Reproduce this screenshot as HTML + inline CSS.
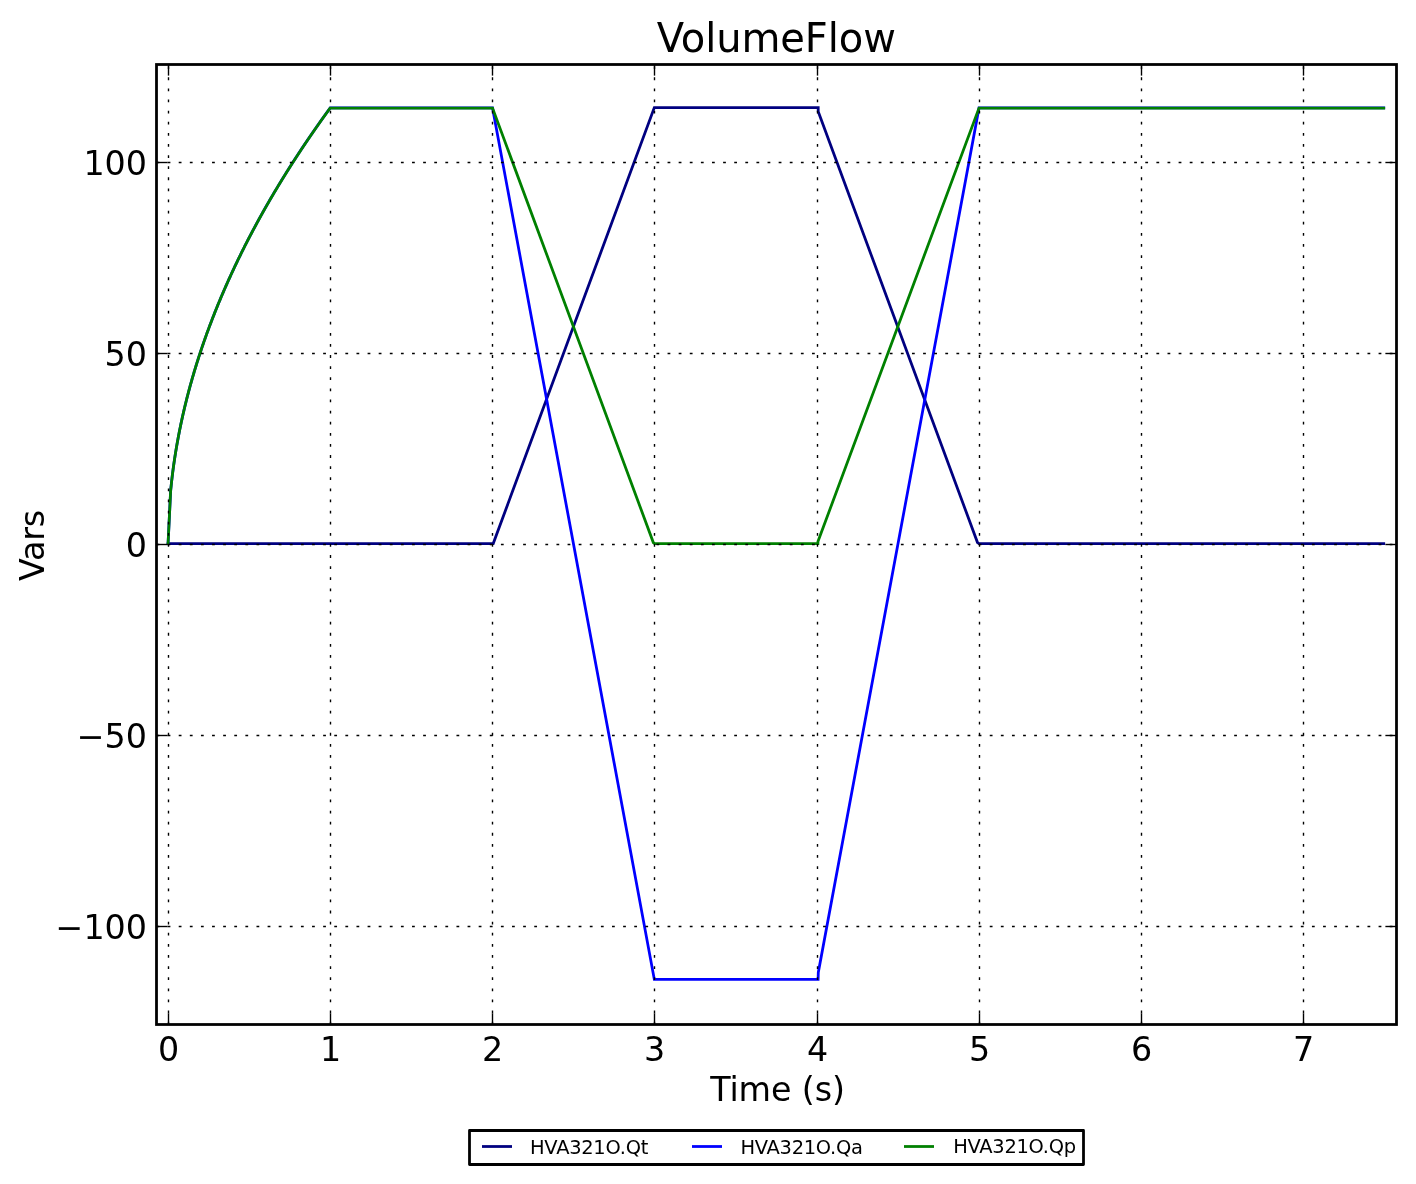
<!DOCTYPE html>
<html><head><meta charset="utf-8"><title>VolumeFlow</title>
<style>html,body{margin:0;padding:0;background:#fff}body{width:1416px;height:1184px;overflow:hidden}</style></head>
<body>
<svg width="1416" height="1184" viewBox="0 0 1416 1184" style="display:block">
<rect x="0" y="0" width="1416" height="1184" fill="#fff"/>
<path d="M168.16 543.55 L493.24 543.55 L654.33 107.60 L818.20 107.60 L818.20 111.60 L977.50 542.55 L979.00 543.55 L1383.74 543.55" fill="none" stroke="#000080" stroke-width="2.78" stroke-linejoin="miter" stroke-miterlimit="4" stroke-linecap="square"/>
<path d="M168.06 543.70 L170.63 491.05 L170.80 489.23 L170.99 487.42 L171.18 485.60 L171.37 483.78 L171.57 481.97 L171.77 480.15 L171.99 478.34 L172.20 476.52 L172.42 474.71 L172.65 472.89 L172.89 471.08 L173.13 469.26 L173.37 467.44 L173.62 465.63 L173.88 463.81 L174.14 462.00 L174.41 460.18 L174.68 458.37 L174.96 456.55 L175.25 454.73 L175.54 452.92 L175.83 451.10 L176.14 449.29 L176.44 447.47 L176.76 445.66 L177.08 443.84 L177.40 442.03 L177.73 440.21 L178.07 438.39 L178.41 436.58 L178.75 434.76 L179.11 432.95 L179.46 431.13 L179.83 429.32 L180.20 427.50 L180.57 425.68 L180.95 423.87 L181.34 422.05 L181.73 420.24 L182.13 418.42 L182.53 416.61 L182.94 414.79 L183.35 412.98 L183.77 411.16 L184.19 409.34 L184.62 407.53 L185.06 405.71 L185.50 403.90 L185.95 402.08 L186.40 400.27 L186.86 398.45 L187.32 396.63 L187.79 394.82 L188.27 393.00 L188.75 391.19 L189.23 389.37 L189.72 387.56 L190.22 385.74 L190.72 383.93 L191.23 382.11 L191.74 380.29 L192.26 378.48 L192.79 376.66 L193.32 374.85 L193.85 373.03 L194.39 371.22 L194.94 369.40 L195.49 367.58 L196.05 365.77 L196.61 363.95 L197.18 362.14 L197.75 360.32 L198.33 358.51 L198.92 356.69 L199.51 354.88 L200.10 353.06 L200.71 351.24 L201.31 349.43 L201.92 347.61 L202.54 345.80 L203.17 343.98 L203.79 342.17 L204.43 340.35 L205.07 338.53 L205.71 336.72 L206.36 334.90 L207.02 333.09 L207.68 331.27 L208.35 329.46 L209.02 327.64 L209.70 325.83 L210.38 324.01 L211.07 322.19 L211.76 320.38 L212.46 318.56 L213.17 316.75 L213.88 314.93 L214.59 313.12 L215.31 311.30 L216.04 309.48 L216.77 307.67 L217.51 305.85 L218.25 304.04 L219.00 302.22 L219.75 300.41 L220.51 298.59 L221.28 296.77 L222.05 294.96 L222.82 293.14 L223.60 291.33 L224.39 289.51 L225.18 287.70 L225.98 285.88 L226.78 284.07 L227.59 282.25 L228.40 280.43 L229.22 278.62 L230.05 276.80 L230.88 274.99 L231.71 273.17 L232.55 271.36 L233.40 269.54 L234.25 267.73 L235.11 265.91 L235.97 264.09 L236.83 262.28 L237.71 260.46 L238.59 258.65 L239.47 256.83 L240.36 255.02 L241.25 253.20 L242.15 251.38 L243.06 249.57 L243.97 247.75 L244.88 245.94 L245.80 244.12 L246.73 242.31 L247.66 240.49 L248.60 238.68 L249.54 236.86 L250.49 235.04 L251.44 233.23 L252.40 231.41 L253.37 229.60 L254.34 227.78 L255.31 225.97 L256.29 224.15 L257.28 222.33 L258.27 220.52 L259.27 218.70 L260.27 216.89 L261.27 215.07 L262.29 213.26 L263.31 211.44 L264.33 209.62 L265.36 207.81 L266.39 205.99 L267.43 204.18 L268.48 202.36 L269.53 200.55 L270.58 198.73 L271.64 196.92 L272.71 195.10 L273.78 193.28 L274.86 191.47 L275.94 189.65 L277.02 187.84 L278.12 186.02 L279.22 184.21 L280.32 182.39 L281.43 180.57 L282.54 178.76 L283.66 176.94 L284.79 175.13 L285.92 173.31 L287.05 171.50 L288.19 169.68 L289.34 167.87 L290.49 166.05 L291.65 164.23 L292.81 162.42 L293.98 160.60 L295.15 158.79 L296.33 156.97 L297.51 155.16 L298.70 153.34 L299.89 151.52 L301.09 149.71 L302.30 147.89 L303.51 146.08 L304.72 144.26 L305.95 142.45 L307.17 140.63 L308.40 138.82 L309.64 137.00 L310.88 135.18 L312.13 133.37 L313.38 131.55 L314.64 129.74 L315.90 127.92 L317.17 126.11 L318.44 124.29 L319.72 122.47 L321.01 120.66 L322.30 118.84 L323.59 117.03 L324.89 115.21 L326.20 113.40 L327.51 111.58 L328.83 109.77 L330.15 107.95 L492.54 107.95 L654.33 979.45 L818.10 979.45 L818.30 972.45 L979.01 107.95 L1383.74 107.95" fill="none" stroke="#0000ff" stroke-width="2.78" stroke-linejoin="miter" stroke-miterlimit="4" stroke-linecap="square"/>
<path d="M168.06 543.55 L170.63 490.93 L170.80 489.12 L170.99 487.30 L171.18 485.49 L171.37 483.68 L171.57 481.86 L171.77 480.05 L171.99 478.23 L172.20 476.42 L172.42 474.60 L172.65 472.79 L172.89 470.97 L173.13 469.16 L173.37 467.35 L173.62 465.53 L173.88 463.72 L174.14 461.90 L174.41 460.09 L174.68 458.27 L174.96 456.46 L175.25 454.65 L175.54 452.83 L175.83 451.02 L176.14 449.20 L176.44 447.39 L176.76 445.57 L177.08 443.76 L177.40 441.94 L177.73 440.13 L178.07 438.32 L178.41 436.50 L178.75 434.69 L179.11 432.87 L179.46 431.06 L179.83 429.24 L180.20 427.43 L180.57 425.62 L180.95 423.80 L181.34 421.99 L181.73 420.17 L182.13 418.36 L182.53 416.54 L182.94 414.73 L183.35 412.91 L183.77 411.10 L184.19 409.29 L184.62 407.47 L185.06 405.66 L185.50 403.84 L185.95 402.03 L186.40 400.21 L186.86 398.40 L187.32 396.59 L187.79 394.77 L188.27 392.96 L188.75 391.14 L189.23 389.33 L189.72 387.51 L190.22 385.70 L190.72 383.88 L191.23 382.07 L191.74 380.26 L192.26 378.44 L192.79 376.63 L193.32 374.81 L193.85 373.00 L194.39 371.18 L194.94 369.37 L195.49 367.56 L196.05 365.74 L196.61 363.93 L197.18 362.11 L197.75 360.30 L198.33 358.48 L198.92 356.67 L199.51 354.86 L200.10 353.04 L200.71 351.23 L201.31 349.41 L201.92 347.60 L202.54 345.78 L203.17 343.97 L203.79 342.15 L204.43 340.34 L205.07 338.53 L205.71 336.71 L206.36 334.90 L207.02 333.08 L207.68 331.27 L208.35 329.45 L209.02 327.64 L209.70 325.82 L210.38 324.01 L211.07 322.20 L211.76 320.38 L212.46 318.57 L213.17 316.75 L213.88 314.94 L214.59 313.12 L215.31 311.31 L216.04 309.50 L216.77 307.68 L217.51 305.87 L218.25 304.05 L219.00 302.24 L219.75 300.42 L220.51 298.61 L221.28 296.79 L222.05 294.98 L222.82 293.17 L223.60 291.35 L224.39 289.54 L225.18 287.72 L225.98 285.91 L226.78 284.09 L227.59 282.28 L228.40 280.47 L229.22 278.65 L230.05 276.84 L230.88 275.02 L231.71 273.21 L232.55 271.39 L233.40 269.58 L234.25 267.76 L235.11 265.95 L235.97 264.14 L236.83 262.32 L237.71 260.51 L238.59 258.69 L239.47 256.88 L240.36 255.06 L241.25 253.25 L242.15 251.44 L243.06 249.62 L243.97 247.81 L244.88 245.99 L245.80 244.18 L246.73 242.36 L247.66 240.55 L248.60 238.74 L249.54 236.92 L250.49 235.11 L251.44 233.29 L252.40 231.48 L253.37 229.66 L254.34 227.85 L255.31 226.03 L256.29 224.22 L257.28 222.41 L258.27 220.59 L259.27 218.78 L260.27 216.96 L261.27 215.15 L262.29 213.33 L263.31 211.52 L264.33 209.70 L265.36 207.89 L266.39 206.08 L267.43 204.26 L268.48 202.45 L269.53 200.63 L270.58 198.82 L271.64 197.00 L272.71 195.19 L273.78 193.38 L274.86 191.56 L275.94 189.75 L277.02 187.93 L278.12 186.12 L279.22 184.30 L280.32 182.49 L281.43 180.68 L282.54 178.86 L283.66 177.05 L284.79 175.23 L285.92 173.42 L287.05 171.60 L288.19 169.79 L289.34 167.97 L290.49 166.16 L291.65 164.35 L292.81 162.53 L293.98 160.72 L295.15 158.90 L296.33 157.09 L297.51 155.27 L298.70 153.46 L299.89 151.64 L301.09 149.83 L302.30 148.02 L303.51 146.20 L304.72 144.39 L305.95 142.57 L307.17 140.76 L308.40 138.94 L309.64 137.13 L310.88 135.32 L312.13 133.50 L313.38 131.69 L314.64 129.87 L315.90 128.06 L317.17 126.24 L318.44 124.43 L319.72 122.62 L321.01 120.80 L322.30 118.99 L323.59 117.17 L324.89 115.36 L326.20 113.54 L327.51 111.73 L328.83 109.91 L330.15 108.10 L492.54 108.10 L653.33 542.55 L654.63 543.55 L817.90 543.55 L817.95 541.55 L979.01 108.10 L1383.74 108.10" fill="none" stroke="#008000" stroke-width="2.78" stroke-linejoin="miter" stroke-miterlimit="4" stroke-linecap="square"/>
<g stroke="#000" stroke-width="1.39" stroke-dasharray="2.78 8.33" fill="none">
<line x1="168.50" y1="1024.5" x2="168.50" y2="64.5"/>
<line x1="330.50" y1="1024.5" x2="330.50" y2="64.5"/>
<line x1="492.50" y1="1024.5" x2="492.50" y2="64.5"/>
<line x1="654.50" y1="1024.5" x2="654.50" y2="64.5"/>
<line x1="817.50" y1="1024.5" x2="817.50" y2="64.5"/>
<line x1="979.50" y1="1024.5" x2="979.50" y2="64.5"/>
<line x1="1141.50" y1="1024.5" x2="1141.50" y2="64.5"/>
<line x1="1303.50" y1="1024.5" x2="1303.50" y2="64.5"/>
<line x1="156.5" y1="926.50" x2="1396.5" y2="926.50"/>
<line x1="156.5" y1="735.50" x2="1396.5" y2="735.50"/>
<line x1="156.5" y1="544.50" x2="1396.5" y2="544.50"/>
<line x1="156.5" y1="353.50" x2="1396.5" y2="353.50"/>
<line x1="156.5" y1="162.50" x2="1396.5" y2="162.50"/>
</g>
<g stroke="#000" stroke-width="1.39" fill="none">
<line x1="168.50" y1="1024.5" x2="168.50" y2="1013.39"/>
<line x1="168.50" y1="64.5" x2="168.50" y2="75.61"/>
<line x1="330.50" y1="1024.5" x2="330.50" y2="1013.39"/>
<line x1="330.50" y1="64.5" x2="330.50" y2="75.61"/>
<line x1="492.50" y1="1024.5" x2="492.50" y2="1013.39"/>
<line x1="492.50" y1="64.5" x2="492.50" y2="75.61"/>
<line x1="654.50" y1="1024.5" x2="654.50" y2="1013.39"/>
<line x1="654.50" y1="64.5" x2="654.50" y2="75.61"/>
<line x1="817.50" y1="1024.5" x2="817.50" y2="1013.39"/>
<line x1="817.50" y1="64.5" x2="817.50" y2="75.61"/>
<line x1="979.50" y1="1024.5" x2="979.50" y2="1013.39"/>
<line x1="979.50" y1="64.5" x2="979.50" y2="75.61"/>
<line x1="1141.50" y1="1024.5" x2="1141.50" y2="1013.39"/>
<line x1="1141.50" y1="64.5" x2="1141.50" y2="75.61"/>
<line x1="1303.50" y1="1024.5" x2="1303.50" y2="1013.39"/>
<line x1="1303.50" y1="64.5" x2="1303.50" y2="75.61"/>
<line x1="156.5" y1="926.50" x2="167.61" y2="926.50"/>
<line x1="1396.5" y1="926.50" x2="1385.39" y2="926.50"/>
<line x1="156.5" y1="735.50" x2="167.61" y2="735.50"/>
<line x1="1396.5" y1="735.50" x2="1385.39" y2="735.50"/>
<line x1="156.5" y1="544.50" x2="167.61" y2="544.50"/>
<line x1="1396.5" y1="544.50" x2="1385.39" y2="544.50"/>
<line x1="156.5" y1="353.50" x2="167.61" y2="353.50"/>
<line x1="1396.5" y1="353.50" x2="1385.39" y2="353.50"/>
<line x1="156.5" y1="162.50" x2="167.61" y2="162.50"/>
<line x1="1396.5" y1="162.50" x2="1385.39" y2="162.50"/>
</g>
<rect x="156.5" y="64.5" width="1240.0" height="960.0" fill="none" stroke="#000" stroke-width="2.78" stroke-linejoin="miter"/>
<g font-family='"DejaVu Sans", "Liberation Sans", sans-serif' fill="#000">
<text x="168.50" y="1061" font-size="33.33" text-anchor="middle">0</text>
<text x="330.50" y="1061" font-size="33.33" text-anchor="middle">1</text>
<text x="492.50" y="1061" font-size="33.33" text-anchor="middle">2</text>
<text x="654.50" y="1061" font-size="33.33" text-anchor="middle">3</text>
<text x="817.50" y="1061" font-size="33.33" text-anchor="middle">4</text>
<text x="979.50" y="1061" font-size="33.33" text-anchor="middle">5</text>
<text x="1141.50" y="1061" font-size="33.33" text-anchor="middle">6</text>
<text x="1303.50" y="1061" font-size="33.33" text-anchor="middle">7</text>
<text x="147.0" y="939.07" font-size="33.33" text-anchor="end">−100</text>
<text x="147.0" y="747.94" font-size="33.33" text-anchor="end">−50</text>
<text x="147.0" y="556.80" font-size="33.33" text-anchor="end">0</text>
<text x="147.0" y="365.66" font-size="33.33" text-anchor="end">50</text>
<text x="147.0" y="174.53" font-size="33.33" text-anchor="end">100</text>
<text x="776.25" y="51.8" font-size="40" text-anchor="middle" textLength="239.2">VolumeFlow</text>
<text x="777.6" y="1101" font-size="33.33" text-anchor="middle" textLength="134.9">Time (s)</text>
<text transform="translate(44.1 545.4) rotate(-90)" font-size="33.33" text-anchor="middle" textLength="71">Vars</text>
<rect x="469.5" y="1130.5" width="614.00" height="34.00" fill="#fff" stroke="#000" stroke-width="2.78" stroke-linejoin="round"/>
<text x="530.0" y="1153.8" font-size="19.44" textLength="118.3">HVA321O.Qt</text>
<text x="740.4" y="1153.8" font-size="19.44" textLength="122.5">HVA321O.Qa</text>
<text x="953.2" y="1152.7" font-size="19.44" textLength="122.9">HVA321O.Qp</text>
</g>
<line x1="482.0" y1="1146.5" x2="512.0" y2="1146.5" stroke="#000080" stroke-width="2.78"/>
<line x1="692.0" y1="1146.5" x2="722.0" y2="1146.5" stroke="#0000ff" stroke-width="2.78"/>
<line x1="904.0" y1="1146.5" x2="934.0" y2="1146.5" stroke="#008000" stroke-width="2.78"/>
</svg>
</body></html>
